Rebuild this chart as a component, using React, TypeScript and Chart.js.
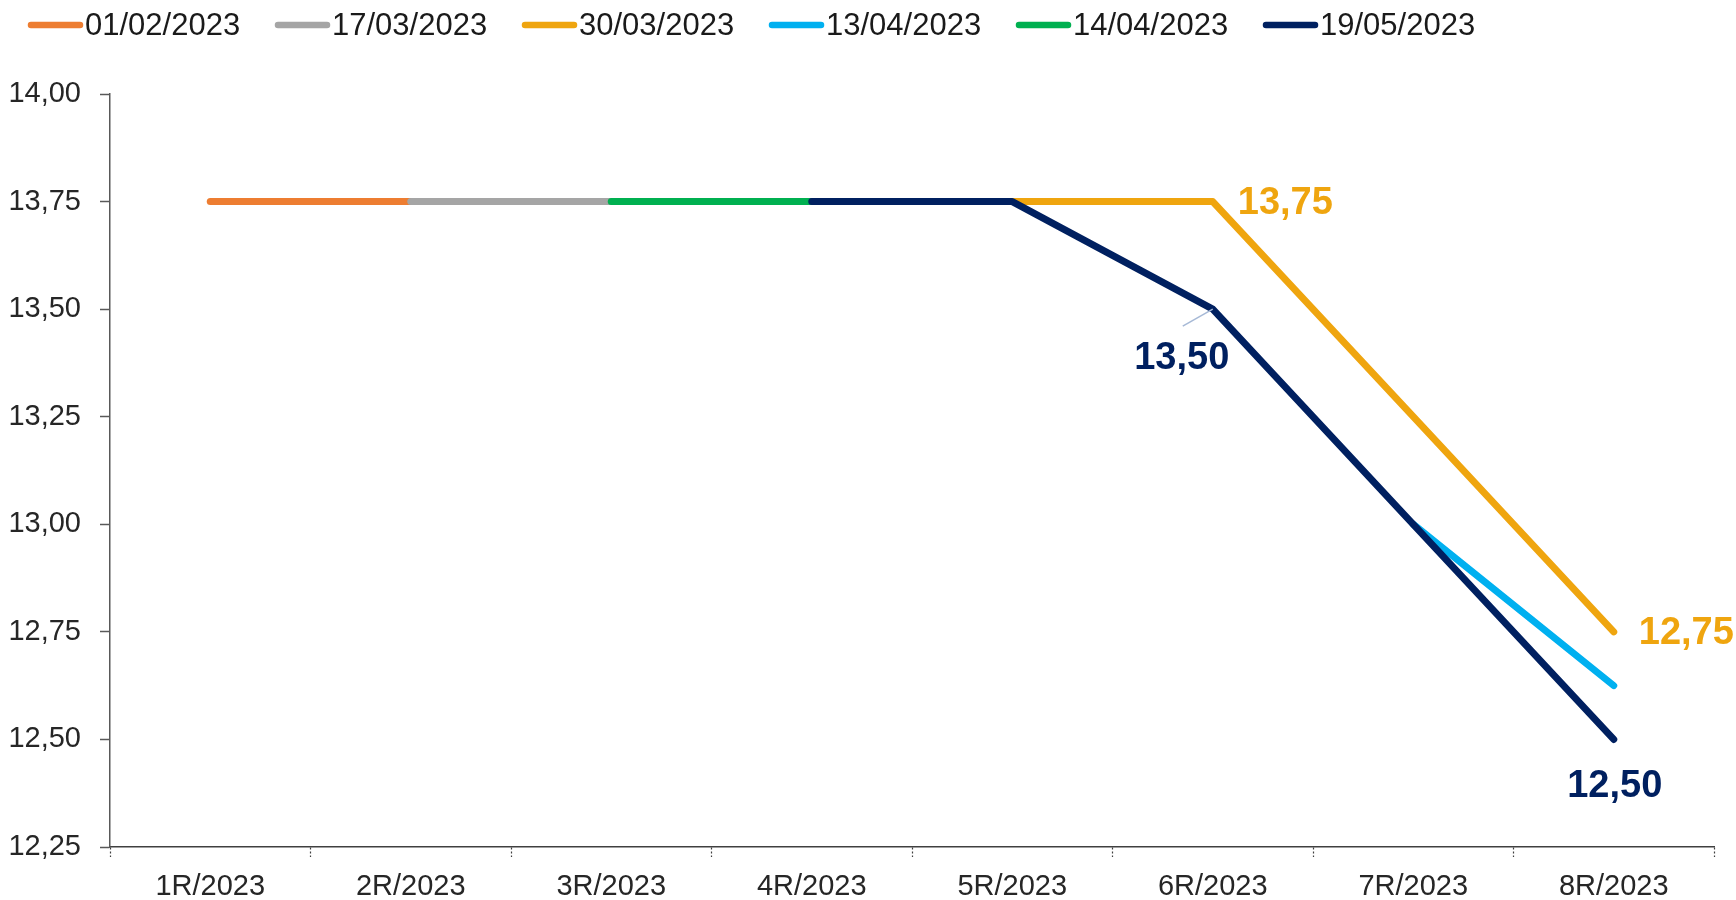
import React, { useEffect, useRef } from "react";
import { Chart, registerables } from "chart.js";

Chart.register(...registerables);

const categories = ["1R/2023", "2R/2023", "3R/2023", "4R/2023", "5R/2023", "6R/2023", "7R/2023", "8R/2023"];
const seriesNames = ["01/02/2023", "17/03/2023", "30/03/2023", "13/04/2023", "14/04/2023", "19/05/2023"];
const seriesColors = ["#ED7D31", "#A5A5A5", "#EFA50F", "#00B0F0", "#00B050", "#002060"];
const s0102 = [13.75, 13.75, null, null, null, null, null, null];
const s1703 = [null, 13.75, 13.75, null, null, null, null, null];
const s3003 = [null, null, null, null, 13.75, 13.75, 13.25, 12.75];
const s1304 = [null, null, null, null, null, null, 13.0, 12.625];
const s1404 = [null, null, 13.75, 13.75, null, null, null, null];
const s1905 = [null, null, null, 13.75, 13.75, 13.5, 13.0, 12.5];
const seriesValues = [s0102, s1703, s3003, s1304, s1404, s1905];
// draw order (lower = on top)
const seriesOrder = [5, 4, 2, 1, 3, 0];
const yTicks = { min: 12.25, max: 14, step: 0.25 };

// data labels: series index, category index, placement
const dataLabels = [
  { series: 2, index: 5, place: "right" },
  { series: 5, index: 5, place: "belowLeft" },
  { series: 2, index: 7, place: "right" },
  { series: 5, index: 7, place: "below" },
];

const fmt = (v: number) => v.toFixed(2).replace(".", ",");

const legendPlugin = {
  id: "customLegend",
  afterDraw(chart: any) {
    const ctx = chart.ctx;
    ctx.save();
    ctx.font = "31px 'Liberation Sans'";
    ctx.textBaseline = "middle";
    ctx.textAlign = "left";
    const y = 25;
    seriesNames.forEach((name, i) => {
      const x = 28 + i * 247;
      ctx.strokeStyle = seriesColors[i];
      ctx.lineWidth = 6.5;
      ctx.lineCap = "round";
      ctx.beginPath();
      ctx.moveTo(x + 3, y);
      ctx.lineTo(x + 52, y);
      ctx.stroke();
      ctx.fillStyle = "#1a1a1a";
      ctx.fillText(name, x + 57, y + 1);
    });
    ctx.restore();
  },
};

const labelPlugin = {
  id: "valueLabels",
  afterDatasetsDraw(chart: any) {
    const ctx = chart.ctx;
    const xs = chart.scales.x;
    const ys = chart.scales.y;
    ctx.save();
    ctx.font = "bold 38px 'Liberation Sans'";
    ctx.textBaseline = "middle";
    dataLabels.forEach((l) => {
      const v = seriesValues[l.series][l.index] as number;
      const px = xs.getPixelForValue(l.index);
      const py = ys.getPixelForValue(v);
      const text = fmt(v);
      ctx.fillStyle = seriesColors[l.series];
      if (l.place === "right") {
        ctx.textAlign = "left";
        ctx.fillText(text, px + 25, py + 2);
      } else if (l.place === "below") {
        ctx.textAlign = "center";
        ctx.fillText(text, px + 1, py + 47);
      } else {
        ctx.strokeStyle = "#A6B9D6";
        ctx.lineWidth = 1.5;
        ctx.beginPath();
        ctx.moveTo(px, py);
        ctx.lineTo(px - 30, py + 17);
        ctx.stroke();
        ctx.textAlign = "center";
        ctx.fillText(text, px - 31, py + 49);
      }
    });
    ctx.restore();
  },
};

export default function App() {
  const ref = useRef<HTMLCanvasElement>(null);
  useEffect(() => {
    if (!ref.current) return;
    Chart.defaults.font.family = "'Liberation Sans'";
    const chart = new Chart(ref.current, {
      type: "line",
      data: {
        labels: categories,
        datasets: seriesNames.map((name, i) => ({
          label: name,
          data: seriesValues[i],
          borderColor: seriesColors[i],
          backgroundColor: seriesColors[i],
          borderWidth: 7,
          borderCapStyle: "round",
          borderJoinStyle: "round",
          pointRadius: 0,
          pointHoverRadius: 0,
          tension: 0,
          spanGaps: false,
          order: seriesOrder[i],
        })),
      },
      options: {
        responsive: false,
        animation: false,
        events: [],
        layout: { padding: { top: 94, right: 22, left: 0, bottom: 0 } },
        plugins: {
          legend: { display: false },
          tooltip: { enabled: false },
        },
        scales: {
          x: {
            type: "category",
            offset: true,
            afterFit: (scale: any) => {
              scale.height = 53;
            },
            grid: {
              offset: true,
              drawOnChartArea: false,
              drawTicks: true,
              tickLength: 10,
              tickColor: "#404040",
              tickWidth: 1.2,
              tickBorderDash: [2, 2],
            },
            border: { display: true, color: "#404040", width: 1.5, dash: [2, 1.5] },
            ticks: {
              color: "#262626",
              font: { size: 29 },
              padding: 13,
              maxRotation: 0,
              autoSkip: false,
            },
          },
          y: {
            min: yTicks.min,
            max: yTicks.max,
            afterFit: (scale: any) => {
              scale.width = 110;
            },
            grid: {
              drawOnChartArea: false,
              drawTicks: true,
              tickLength: 10,
              tickColor: "#595959",
              tickWidth: 1.5,
            },
            border: { display: true, color: "#595959", width: 1.5 },
            ticks: {
              stepSize: yTicks.step,
              color: "#262626",
              font: { size: 29 },
              padding: 19,
              callback: (v: any) => fmt(Number(v)),
            },
          },
        },
      },
      plugins: [legendPlugin, labelPlugin],
    });
    return () => chart.destroy();
  }, []);
  return (
    <div style={{ position: "absolute", left: 0, top: 0, width: 1736, height: 900, background: "#fff" }}>
      <canvas ref={ref} width={1736} height={900} style={{ width: 1736, height: 900 }} />
    </div>
  );
}
